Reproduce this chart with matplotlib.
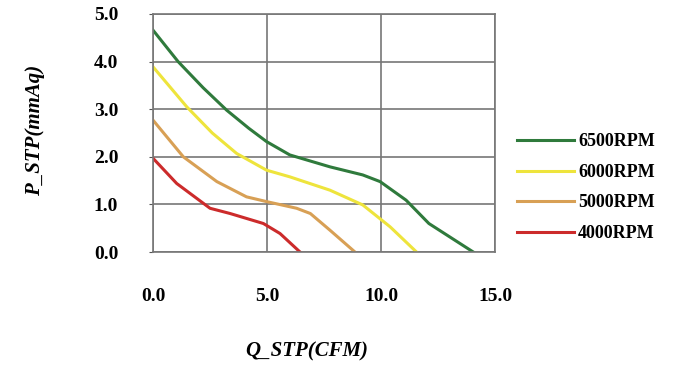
import matplotlib.pyplot as plt

# ======数据======
q_6500 = [0.0, 1.1, 2.2, 3.23, 4.2, 4.98, 6.0, 7.76, 9.2, 9.96, 11.1, 12.1, 14.05]
p_6500 = [4.66, 4.0, 3.45, 2.98, 2.6, 2.32, 2.04, 1.79, 1.62, 1.48, 1.09, 0.6, 0.0]

q_6000 = [0.0, 1.48, 2.6, 3.67, 4.98, 6.0, 7.76, 9.2, 10.4, 11.56]
p_6000 = [3.89, 3.05, 2.5, 2.07, 1.72, 1.58, 1.30, 0.99, 0.53, 0.0]

q_5000 = [0.0, 1.33, 2.8, 4.1, 4.98, 6.3, 6.9, 7.76, 8.86]
p_5000 = [2.77, 2.0, 1.48, 1.16, 1.06, 0.92, 0.81, 0.46, 0.0]

q_4000 = [0.0, 1.04, 2.5, 3.38, 4.84, 5.57, 6.45]
p_4000 = [1.97, 1.44, 0.92, 0.81, 0.60, 0.39, 0.0]

labels = ['6500RPM', '6000RPM', '5000RPM', '4000RPM']
colors = ['#2f7a3c', '#eee43c', '#d8a055', '#cc2b2b']

x_ticks = [0, 5, 10, 15]
y_ticks = [0, 1, 2, 3, 4, 5]

# ======画图======
plt.rcParams['font.family'] = ['Liberation Serif', 'DejaVu Serif']
fig = plt.figure(figsize=(6.78, 3.68), dpi=100)
ax = fig.add_axes([0.2257, 0.315, 0.5044, 0.647])

series = [(q_6500, p_6500), (q_6000, p_6000), (q_5000, p_5000), (q_4000, p_4000)]
for (q, p), lab, c in zip(series, labels, colors):
    ax.plot(q, p, color=c, lw=2.2, label=lab, solid_joinstyle='round')

ax.set_xlim(0, 15)
ax.set_ylim(0, 5)
ax.set_xticks(x_ticks)
ax.set_yticks(y_ticks)
ax.set_xticklabels(['{:.1f}'.format(v) for v in x_ticks], fontweight='bold', fontsize=14)
ax.set_yticklabels(['{:.1f}'.format(v) for v in y_ticks], fontweight='bold', fontsize=14)
ax.tick_params(axis='x', length=0, pad=26)
ax.tick_params(axis='y', length=3, pad=22, color='#555555')
ax.grid(True, color='#777777', lw=1.2)
for s in ax.spines.values():
    s.set_color('#777777')
    s.set_linewidth(1.2)

fig.text(0.452, 0.045, 'Q_STP(CFM)', fontsize=15, fontweight='bold', style='italic',
         ha='center', va='center')
fig.text(0.052, 0.647, 'P_STP(mmAq)', fontsize=15, fontweight='bold', style='italic',
         ha='center', va='center', rotation=90)

fig.legend(loc='center left', bbox_to_anchor=(0.738, 0.49), frameon=False,
           prop={'weight': 'bold', 'size': 13}, handlelength=3.2, handletextpad=0.2,
           labelspacing=0.75)

plt.savefig('out.png', dpi=100)
